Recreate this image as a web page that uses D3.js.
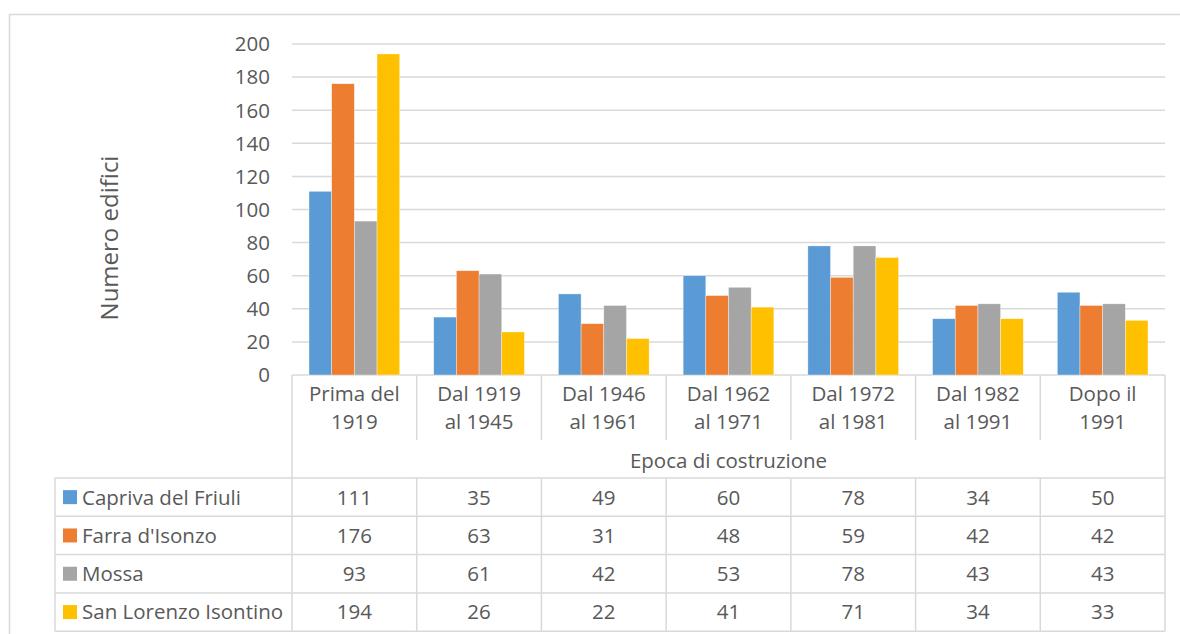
<!DOCTYPE html>
<html>
<head>
<meta charset="utf-8">
<script src="https://cdn.jsdelivr.net/npm/d3@7"></script>
<style>
  body { margin: 0; background: #fff; }
  svg { display: block; font-family: "Open Sans", "Noto Sans", sans-serif; }
</style>
</head>
<body>
<svg id="chart" width="1180" height="634"></svg>
<script>
// data
var categories = [["Prima del", "1919"], ["Dal 1919", "al 1945"], ["Dal 1946", "al 1961"],
                  ["Dal 1962", "al 1971"], ["Dal 1972", "al 1981"], ["Dal 1982", "al 1991"], ["Dopo il", "1991"]];
var seriesNames = ["Capriva del Friuli", "Farra d'Isonzo", "Mossa", "San Lorenzo Isontino"];
var capriva = [111, 35, 49, 60, 78, 34, 50];
var farra = [176, 63, 31, 48, 59, 42, 42];
var mossa = [93, 61, 42, 53, 78, 43, 43];
var sanLorenzo = [194, 26, 22, 41, 71, 34, 33];
var yTicks = [0, 20, 40, 60, 80, 100, 120, 140, 160, 180, 200];
var colors = ["#5B9BD5", "#ED7D31", "#A5A5A5", "#FFC000"];

(function() {
  var series = [capriva, farra, mossa, sanLorenzo];

  var svg = d3.select("#chart");
  var textColor = "#595959", lineColor = "#d9d9d9", fs = 20.5;

  var plotLeft = 292, plotRight = 1165, plotTop = 44, base = 375;
  var tableLeft = 55, rowTop = 478, rowH = 38.3;

  // outer frame
  svg.append("path")
    .attr("d", "M9.5,640 V14.5 H1190")
    .attr("fill", "none").attr("stroke", lineColor).attr("stroke-width", 1.5);

  var x = d3.scaleBand().domain(d3.range(categories.length)).range([plotLeft, plotRight]);
  var xi = d3.scaleBand().domain(d3.range(series.length)).range([0, x.bandwidth()])
    .paddingInner(0).paddingOuter(0.75);
  var y = d3.scaleLinear().domain([0, 200]).range([base, plotTop]);

  // gridlines
  svg.append("g").selectAll("line").data(yTicks).join("line")
    .attr("x1", plotLeft).attr("x2", plotRight)
    .attr("y1", function(d) { return y(d); }).attr("y2", function(d) { return y(d); })
    .attr("stroke", lineColor).attr("stroke-width", 1.5);

  // y tick labels
  svg.append("g").selectAll("text").data(yTicks).join("text")
    .attr("x", 270).attr("y", function(d) { return y(d); })
    .attr("dy", "0.36em").attr("text-anchor", "end")
    .attr("fill", textColor).attr("font-size", fs)
    .text(function(d) { return d; });

  // bars
  svg.append("g").selectAll("g").data(series).join("g")
    .attr("fill", function(d, i) { return colors[i]; })
    .each(function(vals, si) {
      d3.select(this).selectAll("rect").data(vals).join("rect")
        .attr("x", function(d, ci) { return x(ci) + xi(si); })
        .attr("y", function(d) { return y(d); })
        .attr("width", xi.bandwidth())
        .attr("height", function(d) { return base - y(d); })
        .attr("stroke", "#fff").attr("stroke-width", 0.6).attr("stroke-opacity", 0.6);
    });

  // category axis / table lines
  var grid = svg.append("g").attr("stroke", lineColor).attr("stroke-width", 1.5);
  grid.selectAll("line.div").data(d3.range(1, categories.length)).join("line")
    .attr("class", "div")
    .attr("x1", function(d) { return x(d); }).attr("x2", function(d) { return x(d); })
    .attr("y1", base).attr("y2", 440);
  grid.append("line").attr("x1", plotLeft).attr("x2", plotLeft).attr("y1", base).attr("y2", rowTop + rowH * 4);
  grid.append("line").attr("x1", plotRight).attr("x2", plotRight).attr("y1", base).attr("y2", rowTop + rowH * 4);
  grid.selectAll("line.row").data(d3.range(5)).join("line")
    .attr("class", "row")
    .attr("x1", tableLeft).attr("x2", plotRight)
    .attr("y1", function(d) { return rowTop + d * rowH; }).attr("y2", function(d) { return rowTop + d * rowH; });
  grid.selectAll("line.col").data(d3.range(1, categories.length)).join("line")
    .attr("class", "col")
    .attr("x1", function(d) { return x(d); }).attr("x2", function(d) { return x(d); })
    .attr("y1", rowTop).attr("y2", rowTop + rowH * 4);
  grid.append("line").attr("x1", tableLeft).attr("x2", tableLeft).attr("y1", rowTop).attr("y2", rowTop + rowH * 4);

  // category labels
  var cat = svg.append("g").attr("fill", textColor).attr("font-size", fs).attr("text-anchor", "middle");
  cat.selectAll("text").data(categories).join("text")
    .attr("x", function(d, i) { return x(i) + x.bandwidth() / 2; })
    .each(function(d) {
      var cx = d3.select(this).attr("x");
      d3.select(this).selectAll("tspan").data(d).join("tspan")
        .attr("x", cx)
        .attr("y", function(t, j) { return 401 + j * 28; })
        .text(function(t) { return t; });
    });

  // x axis title
  svg.append("text")
    .attr("x", (plotLeft + plotRight) / 2).attr("y", 468)
    .attr("text-anchor", "middle").attr("fill", textColor).attr("font-size", fs)
    .text("Epoca di costruzione");

  // y axis title
  svg.append("text")
    .attr("transform", "translate(118,238) rotate(-90)")
    .attr("text-anchor", "middle").attr("fill", textColor).attr("font-size", 24)
    .text("Numero edifici");

  // table rows
  var rows = svg.append("g").selectAll("g").data(series).join("g")
    .attr("transform", function(d, i) { return "translate(0," + (rowTop + i * rowH) + ")"; });
  rows.append("rect")
    .attr("x", 63).attr("y", rowH / 2 - 7).attr("width", 14).attr("height", 14)
    .attr("fill", function(d, i) { return colors[i]; });
  rows.append("text")
    .attr("x", 82).attr("y", rowH / 2).attr("dy", "0.36em")
    .attr("fill", textColor).attr("font-size", fs)
    .text(function(d, i) { return seriesNames[i]; });
  rows.selectAll("text.val").data(function(d) { return d; }).join("text")
    .attr("class", "val")
    .attr("x", function(d, i) { return x(i) + x.bandwidth() / 2; })
    .attr("y", rowH / 2).attr("dy", "0.36em").attr("text-anchor", "middle")
    .attr("fill", textColor).attr("font-size", fs)
    .text(function(d) { return d; });
})();
</script>
</body>
</html>
